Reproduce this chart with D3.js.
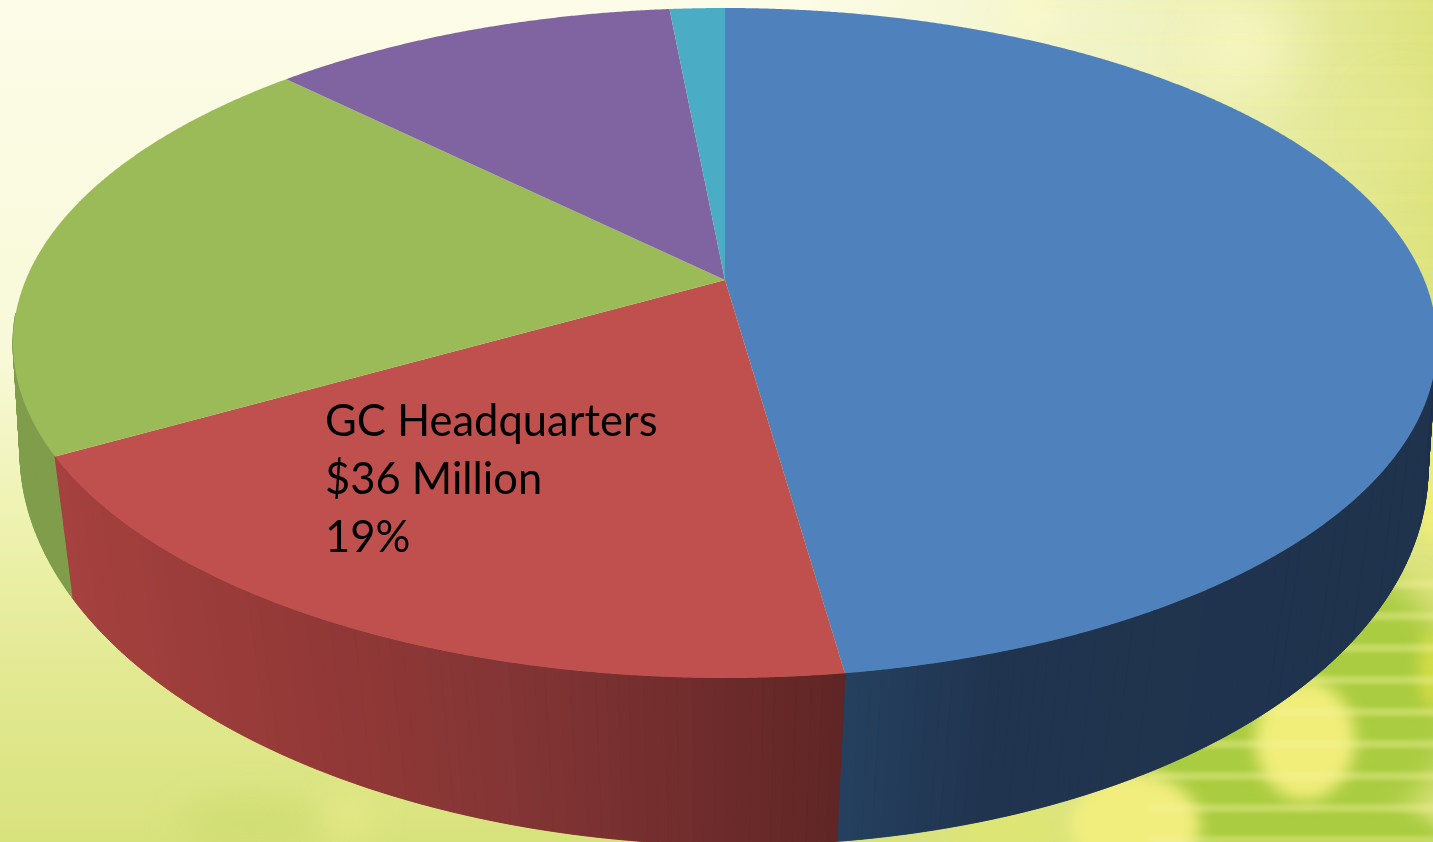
<!DOCTYPE html>
<html>
<head>
<meta charset="utf-8">
<script src="https://cdn.jsdelivr.net/npm/d3@7"></script>
<style>
  html, body { margin: 0; padding: 0; overflow: hidden; background: #f8f9e0; }
  svg { display: block; }
</style>
</head>
<body>
<svg width="1433" height="842"></svg>
<script>
// slices, clockwise from 12 o'clock. only the red one is labelled in the picture,
// the others are read from their angle ($ million)
const categories = ["Slice A", "GC Headquarters", "Slice C", "Slice D", "Slice E"];
const values = [90.6, 36, 39.2, 21, 2.85];
const topColors = ["#4f81bd", "#c0504d", "#9bbb59", "#8064a2", "#4bacc6"];
const labelLines = ["GC Headquarters", "$36 Million", "19%"];

const svg = d3.select("svg");
const width = 1433, height = 842;

const defs = svg.append("defs");

function gradient(id, x2, y2, stops) {
  const g = defs.append("linearGradient").attr("id", id)
    .attr("x1", 0).attr("y1", 0).attr("x2", x2).attr("y2", y2);
  stops.forEach(s => g.append("stop").attr("offset", s[0])
    .attr("stop-color", s[1]).attr("stop-opacity", s[2] === undefined ? 1 : s[2]));
}
function blur(id, dev) {
  defs.append("filter").attr("id", id)
    .attr("filterUnits", "userSpaceOnUse")
    .attr("x", -200).attr("y", -200).attr("width", width + 400).attr("height", height + 400)
    .append("feGaussianBlur").attr("stdDeviation", dev);
}
gradient("base", 0, 1, [[0, "#fcfce8"], [0.42, "#f8f9d8"], [0.62, "#eef2b0"], [0.8, "#e2e992"], [1, "#d8e27c"]]);
gradient("rightSide", 1, 0, [[0, "#dde488", 0], [0.55, "#dde488", 0.4], [1, "#dde37e", 1]]);
blur("blurSmall", 8);
blur("blurMid", 16);
blur("blurBig", 30);
blur("blurStripe", 2);

// ---- background
const bg = svg.append("g");
bg.append("rect").attr("width", width).attr("height", height).attr("fill", "url(#base)");
bg.append("rect").attr("x", 800).attr("width", 633).attr("height", height).attr("fill", "url(#rightSide)");

const softBlobs = [
  {x: 1240, y: 45, rx: 50, ry: 45, c: "#f9f8c6", o: 0.9, f: "blurBig"},
  {x: 1030, y: 10, rx: 30, ry: 30, c: "#faf9c8", o: 0.7, f: "blurMid"},
  {x: 1405, y: 125, rx: 30, ry: 28, c: "#edee9e", o: 0.7, f: "blurBig"},
  {x: 250, y: 825, rx: 70, ry: 28, c: "#cfdd72", o: 0.8, f: "blurMid"},
  {x: 350, y: 815, rx: 22, ry: 26, c: "#e8ec88", o: 0.7, f: "blurMid"},
  {x: 1010, y: 830, rx: 60, ry: 20, c: "#dfe66e", o: 1, f: "blurMid"}
];
// green field lower right with the pale spots on top
const spots = [
  {x: 1290, y: 700, rx: 170, ry: 150, c: "#a9cc40", o: 1, f: "blurMid"},
  {x: 1290, y: 860, rx: 170, ry: 70, c: "#a9cc40", o: 1, f: "blurSmall"},
  {x: 1305, y: 740, rx: 50, ry: 60, c: "#f1ee7a", o: 1, f: "blurSmall"},
  {x: 1135, y: 825, rx: 65, ry: 50, c: "#f2ee7e", o: 1, f: "blurSmall"},
  {x: 1432, y: 490, rx: 16, ry: 55, c: "#eeee78", o: 1, f: "blurSmall"},
  {x: 1433, y: 670, rx: 14, ry: 40, c: "#d3dc44", o: 1, f: "blurSmall"}
];
bg.selectAll("ellipse").data(softBlobs.concat(spots)).enter().append("ellipse")
  .attr("cx", d => d.x).attr("cy", d => d.y).attr("rx", d => d.rx).attr("ry", d => d.ry)
  .attr("fill", d => d.c).attr("opacity", d => d.o)
  .attr("filter", d => "url(#" + d.f + ")");

// horizontal light stripes, stronger towards the bottom
const stripes = bg.append("g").attr("filter", "url(#blurStripe)");
d3.range(0, 30).forEach(i => {
  const y = 4 + i * 32;
  stripes.append("rect").attr("x", y > 560 ? 1150 : 1040).attr("y", y).attr("width", 400).attr("height", y > 560 ? 8 : 5)
    .attr("fill", "#f4f39a")
    .attr("opacity", y > 560 ? 0.4 : 0.12);
});

// ---- pie geometry
// the disc is a perspective view: the centre of the pie is not the centre of the ellipse
const topFace = {
  x: d3.scaleLinear().domain([-1, 1]).range([13, 1437]),
  y: d3.scaleLinear().domain([-1, 1]).range([678, 8]),
  t: 0.188, shear: 0
};
const bottomFace = {
  x: d3.scaleLinear().domain([-1, 1]).range([20, 1428]),
  y: d3.scaleLinear().domain([-1, 1]).range([845, 75]),
  t: 0.14, shear: 0.012
};

function rim(face, r, a) {
  const u = r * Math.sin(a), v = r * Math.cos(a);
  const s = Math.sqrt(1 - face.t * face.t);
  const den = 1 + face.t * v;
  const xn = u * s / den, yn = (v + face.t) / den;
  const px = face.x(xn);
  return [px, face.y(yn) + face.shear * (px - face.x(0))];
}

const pie = d3.pie().sort(null).value(d => d)(values);
const line = d3.line();

// wall shading, left to right along x (the stepped bands of the original)
const wallColor = [
  d3.scaleLinear().domain([846, 1000, 1420]).range(["#25405f", "#20344f", "#1f334d"]),
  d3.scaleLinear().domain([60, 300, 500, 700, 842]).range(["#a5413e", "#933937", "#843535", "#702c2c", "#5f2625"]),
  d3.scaleLinear().domain([0, 80]).range(["#7f9d4b", "#7f9d4b"]),
  d3.scaleLinear().domain([0, 1]).range(["#5f4a7a", "#5f4a7a"]),
  d3.scaleLinear().domain([0, 1]).range(["#38809a", "#38809a"])
];
const bandWidth = 12;

const step = 0.25 * Math.PI / 180;
const walls = svg.append("g");
[4, 3, 2, 0, 1].forEach(i => {
  const d = pie[i];
  const n = Math.max(1, Math.round((d.endAngle - d.startAngle) / step));
  const angle = d3.scaleLinear().domain([0, n + 1]).range([d.startAngle, d.endAngle]);
  const bandOf = j => Math.round(rim(topFace, 1, angle(j + 0.5))[0] / bandWidth);
  // the back of the wall is behind the top, drawing it only leaves a dark rim
  const visible = j => Math.cos(angle(j)) < -0.1 && Math.cos(angle(j + 1)) < -0.1;

  // every step as its own quad first, these give the outline at the sides of the pie
  d3.range(0, n + 1).filter(visible).forEach(k => {
    const a0 = angle(k), a1 = angle(k + 1);
    const pts = [rim(topFace, 1, a0), rim(topFace, 1, a1), rim(bottomFace, 1, a1), rim(bottomFace, 1, a0)];
    const c = wallColor[i](bandOf(k) * bandWidth);
    walls.append("path").attr("d", line(pts) + "Z")
      .attr("fill", c).attr("stroke", c).attr("stroke-width", 0.6);
  });

  // then consecutive steps of one colour as one polygon, so no seams inside a band
  let k = 0;
  while (k <= n) {
    if (!visible(k)) { k++; continue; }
    const b = bandOf(k);
    let e = k;
    while (e < n && visible(e + 1) && bandOf(e + 1) === b) e++;
    const as = d3.range(k, e + 2).map(angle);
    const pts = as.map(a => rim(topFace, 1, a)).concat(as.slice().reverse().map(a => rim(bottomFace, 1, a)));
    const c = wallColor[i](b * bandWidth);
    walls.append("path").attr("d", line(pts) + "Z")
      .attr("fill", c).attr("stroke", c).attr("stroke-width", 0.6);
    k = e + 1;
  }
});

// top of the pie
const tops = svg.append("g");
pie.forEach((d, i) => {
  const a = d3.range(d.startAngle, d.endAngle, 0.004).concat([d.endAngle]);
  const pts = [rim(topFace, 0, 0)].concat(a.map(x => rim(topFace, 1, x)));
  tops.append("path").attr("d", line(pts) + "Z").attr("fill", topColors[i])
    .attr("class", "slice").attr("data-name", categories[i]);
});

// label
svg.append("g").selectAll("text").data(labelLines).enter().append("text")
  .attr("x", 325)
  .attr("y", (d, i) => 436 + i * 58)
  .attr("font-family", "Lato, 'Noto Sans', sans-serif")
  .attr("font-size", 43.5)
  .attr("fill", "#000")
  .text(d => d);
</script>
</body>
</html>
